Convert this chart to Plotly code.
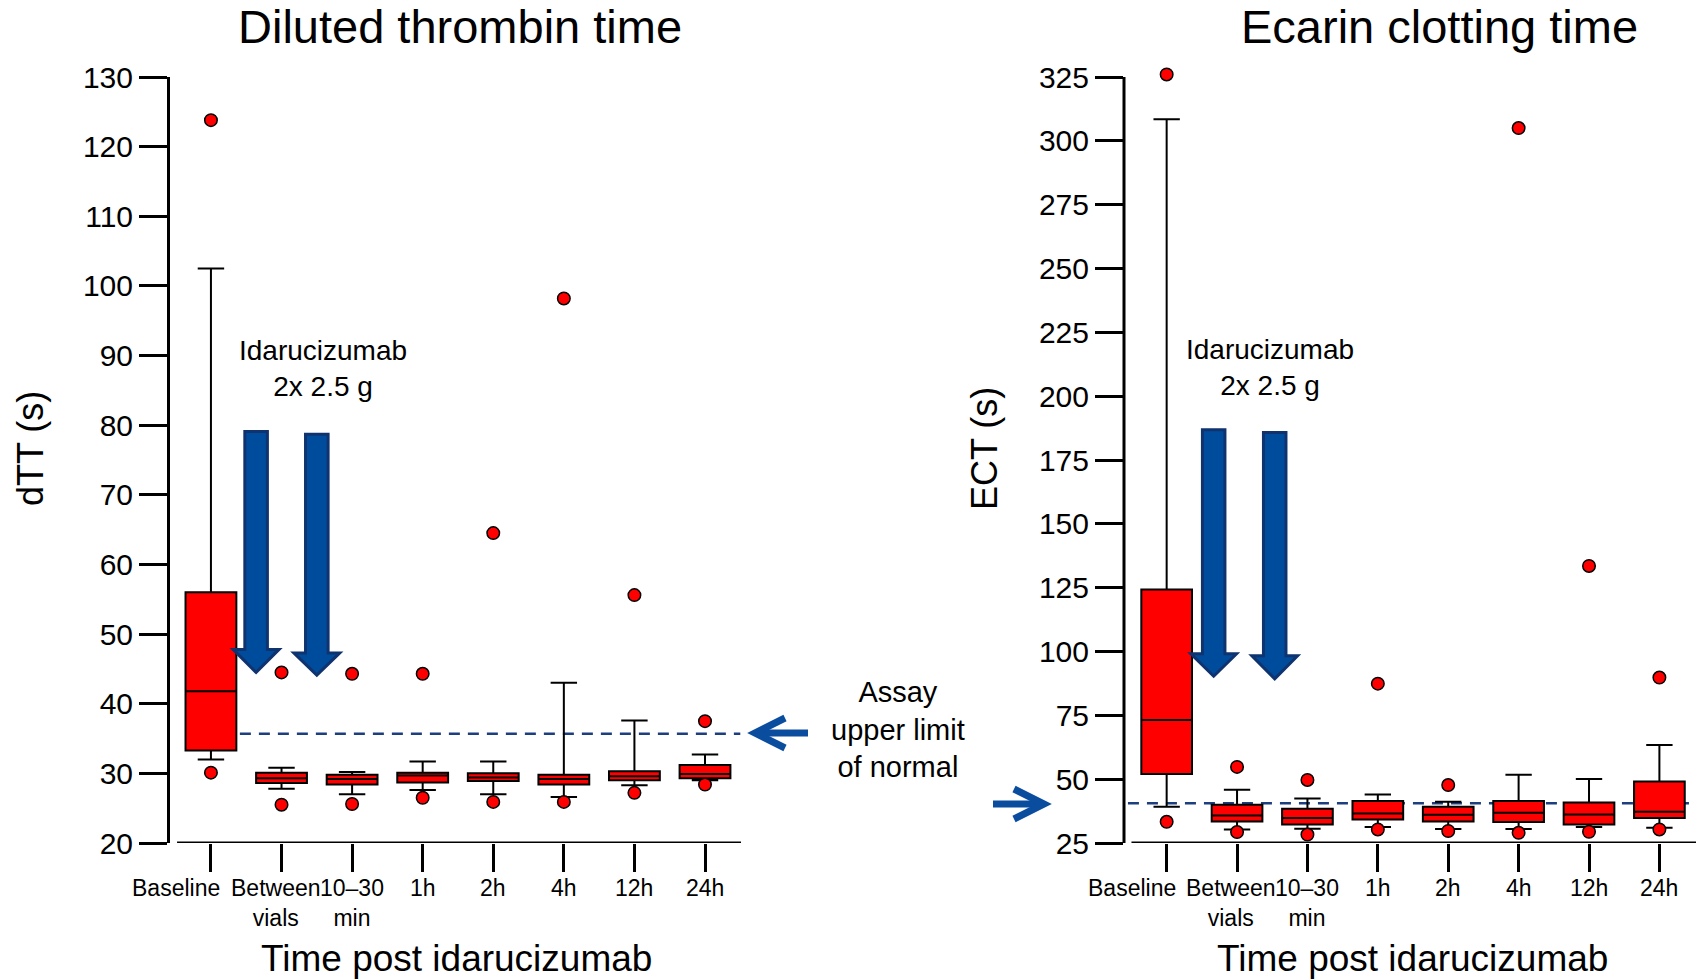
import plotly.graph_objects as go

W, H = 1696, 980

# ---------------- data ----------------
categories = ["Baseline", "Between<br>vials", "10–30<br>min", "1h", "2h", "4h", "12h", "24h"]
label_pos = [-0.49, 0.92, 2, 3, 4, 5, 6, 7]

# Diluted thrombin time (s)
dtt_q1 = [33.3, 28.6, 28.4, 28.7, 28.9, 28.4, 29.0, 29.3]
dtt_med = [41.8, 29.3, 29.2, 29.7, 29.4, 29.2, 29.6, 29.9]
dtt_q3 = [56.0, 30.1, 29.8, 30.1, 30.0, 29.8, 30.3, 31.2]
dtt_lo = [32.0, 27.8, 27.0, 27.6, 27.0, 26.6, 28.3, 29.0]
dtt_hi = [102.5, 30.8, 30.2, 31.7, 31.7, 43.0, 37.6, 32.7]
dtt_out_hi = [123.8, 44.5, 44.3, 44.3, 64.5, 98.2, 55.6, 37.5]
dtt_out_lo = [30.1, 25.5, 25.6, 26.5, 25.9, 25.9, 27.2, 28.4]
dtt_uln = 35.7

# Ecarin clotting time (s)
ect_q1 = [52.0, 33.4, 32.2, 34.2, 33.4, 33.2, 32.2, 34.8]
ect_med = [73.2, 35.8, 34.8, 36.6, 36.1, 36.8, 36.2, 37.2]
ect_q3 = [124.3, 40.0, 38.4, 41.4, 39.2, 41.4, 40.9, 49.1]
ect_lo = [39.2, 30.3, 30.6, 31.3, 30.5, 30.5, 31.3, 31.0]
ect_hi = [308.5, 45.9, 42.4, 44.0, 41.2, 51.7, 50.1, 63.4]
ect_out_hi = [326.0, 54.8, 49.7, 87.4, 47.7, 305.0, 133.5, 89.8]
ect_out_lo = [33.3, 29.3, 28.3, 30.3, 29.7, 29.0, 29.4, 30.3]
ect_uln = 40.6

# idarucizumab dose arrows (x position, top, head base, tip)
dtt_arrow_x = [0.64, 1.50]
dtt_arrow_top = [79.1, 78.7]
dtt_arrow_base = [47.8, 47.3]
dtt_arrow_tip = [44.5, 44.1]
ect_arrow_x = [0.668, 1.535]
ect_arrow_top = [186.8, 185.8]
ect_arrow_base = [99.1, 98.3]
ect_arrow_tip = [90.3, 89.3]

xs = list(range(len(categories)))

RED = "#ff0000"
NAVY = "#0f336e"
BLUE = "#004c9c"
DASH = "#1d3f80"
FONT = "Liberation Sans, Arial, sans-serif"

fig = go.Figure()

def add_panel(q1, med, q3, lo, hi, out_hi, out_lo, xa, ya):
    fig.add_trace(go.Box(
        x=xs, q1=q1, median=med, q3=q3, lowerfence=lo, upperfence=hi,
        width=0.72, whiskerwidth=0.52, fillcolor=RED,
        line=dict(color="black", width=2), boxpoints=False,
        xaxis=xa, yaxis=ya, showlegend=False, hoverinfo="skip"))
    fig.add_trace(go.Scatter(
        x=xs + xs, y=out_hi + out_lo, mode="markers", cliponaxis=False,
        marker=dict(size=12.5, color=RED, line=dict(color="black", width=1.5)),
        xaxis=xa, yaxis=ya, showlegend=False, hoverinfo="skip"))

add_panel(dtt_q1, dtt_med, dtt_q3, dtt_lo, dtt_hi, dtt_out_hi, dtt_out_lo, "x", "y")
add_panel(ect_q1, ect_med, ect_q3, ect_lo, ect_hi, ect_out_hi, ect_out_lo, "x2", "y2")

shapes = []

def block_arrow(xc, top, base, tip, xref, yref, shaft=0.32, head=0.65):
    s, h = shaft / 2, head / 2
    path = (f"M {xc - s},{top} L {xc + s},{top} L {xc + s},{base} L {xc + h},{base} "
            f"L {xc},{tip} L {xc - h},{base} L {xc - s},{base} Z")
    return dict(type="path", path=path, xref=xref, yref=yref,
                fillcolor=BLUE, line=dict(color=NAVY, width=3), layer="above")

for xc, t, b, p in zip(dtt_arrow_x, dtt_arrow_top, dtt_arrow_base, dtt_arrow_tip):
    shapes.append(block_arrow(xc, t, b, p, "x", "y"))
for xc, t, b, p in zip(ect_arrow_x, ect_arrow_top, ect_arrow_base, ect_arrow_tip):
    shapes.append(block_arrow(xc, t, b, p, "x2", "y2"))

# upper limit of normal dashed lines
shapes.append(dict(type="line", xref="x", yref="y", x0=0.41, x1=7.5, y0=dtt_uln, y1=dtt_uln,
                   line=dict(color=DASH, width=2.5, dash="11px,8px"), layer="below"))
shapes.append(dict(type="line", xref="x2", yref="y2", x0=-0.55, x1=7.42, y0=ect_uln, y1=ect_uln,
                   line=dict(color=DASH, width=2.5, dash="11px,8px"), layer="below"))

# x-axis baselines
shapes.append(dict(type="line", xref="x", yref="y", x0=-0.48, x1=7.51, y0=20, y1=20,
                   line=dict(color="black", width=3)))
shapes.append(dict(type="line", xref="x2", yref="y2", x0=-0.5, x1=7.52, y0=25, y1=25,
                   line=dict(color="black", width=3)))
# right y-axis spine (only from 25 to 325)
shapes.append(dict(type="line", xref="x2 domain", yref="y2", x0=0, x1=0, y0=25, y1=325,
                   line=dict(color="black", width=3)))

def px(x):
    return x / W

def py(y):
    return 1 - y / H

# small pointing arrows for "Assay upper limit of normal"
def pointer(x_tail, x_tip, yv):
    d = 1 if x_tip > x_tail else -1
    a = dict(type="path", xref="paper", yref="paper",
             path=f"M {px(x_tail)},{py(yv)} L {px(x_tip - d*3)},{py(yv)}",
             line=dict(color="#0a4d9e", width=7))
    b = dict(type="path", xref="paper", yref="paper",
             path=(f"M {px(x_tip - d*30)},{py(yv - 15)} L {px(x_tip)},{py(yv)} "
                   f"L {px(x_tip - d*30)},{py(yv + 15)}"),
             line=dict(color="#0a4d9e", width=7))
    return [a, b]

shapes += pointer(808, 755, 733)
shapes += pointer(993, 1044, 804)

ann = []
def text(x, y, t, size, **kw):
    ann.append(dict(x=px(x), y=py(y), xref="paper", yref="paper", text=t, showarrow=False,
                    font=dict(size=size, color="black", family=FONT),
                    xanchor="center", yanchor="middle", **kw))

text(460, 27, "Diluted thrombin time", 47)
text(1439, 27, "Ecarin clotting time", 47)
text(30, 449, "dTT (s)", 36, textangle=-90)
text(984, 449, "ECT (s)", 36, textangle=-90)
text(457, 958, "Time post idarucizumab", 37)
text(1412, 958, "Time post idarucizumab", 37)
text(898, 729, "Assay<br>upper limit<br>of normal", 29)

# x category labels
for xa in ("x", "x2"):
    for lab, pos in zip(categories, label_pos):
        two = "<br>" in lab
        ann.append(dict(x=pos, y=py(902.5 if two else 888), xref=xa, yref="paper", text=lab,
                        showarrow=False, font=dict(size=23, color="black", family=FONT),
                        xanchor="center", yanchor="middle"))

# dose annotations
ann.append(dict(x=1.585, y=88.1, xref="x", yref="y", text="Idarucizumab<br>2x 2.5 g",
                showarrow=False, font=dict(size=28, color="black", family=FONT)))
ann.append(dict(x=1.47, y=211.1, xref="x2", yref="y2", text="Idarucizumab<br>2x 2.5 g",
                showarrow=False, font=dict(size=28, color="black", family=FONT)))

yaxis_common = dict(linecolor="black", linewidth=3, ticks="outside",
                    ticklen=28, tickwidth=3, tickcolor="black", showgrid=False,
                    zeroline=False, tickfont=dict(size=30, family=FONT, color="black"))
xaxis_common = dict(showline=False, ticks="outside", ticklen=28, tickwidth=3,
                    tickcolor="black", tickvals=xs, showticklabels=False,
                    showgrid=False, zeroline=False)

bottom_px, top_px = 843, 77
ect_px_per_unit = (bottom_px - top_px) / 300
ect_top = 330
ect_top_px = bottom_px - (ect_top - 25) * ect_px_per_unit

fig.update_layout(
    width=W, height=H, margin=dict(l=0, r=0, t=0, b=0, autoexpand=False),
    paper_bgcolor="white", plot_bgcolor="white",
    font=dict(family=FONT),
    xaxis=dict(domain=[170 / W, 741 / W], range=[-0.58, 7.51], anchor="y", **xaxis_common),
    yaxis=dict(domain=[1 - bottom_px / H, 1 - top_px / H], range=[20, 130], dtick=10,
               anchor="x", showline=True, **yaxis_common),
    xaxis2=dict(domain=[1124 / W, 1.0], range=[-0.606, 7.52], anchor="y2", **xaxis_common),
    yaxis2=dict(domain=[1 - bottom_px / H, 1 - ect_top_px / H], range=[25, ect_top],
                tickvals=list(range(25, 326, 25)), anchor="x2", showline=False,
                **yaxis_common),
    shapes=shapes, annotations=ann, showlegend=False,
)

fig.write_html("out.html", config={"displayModeBar": False})
